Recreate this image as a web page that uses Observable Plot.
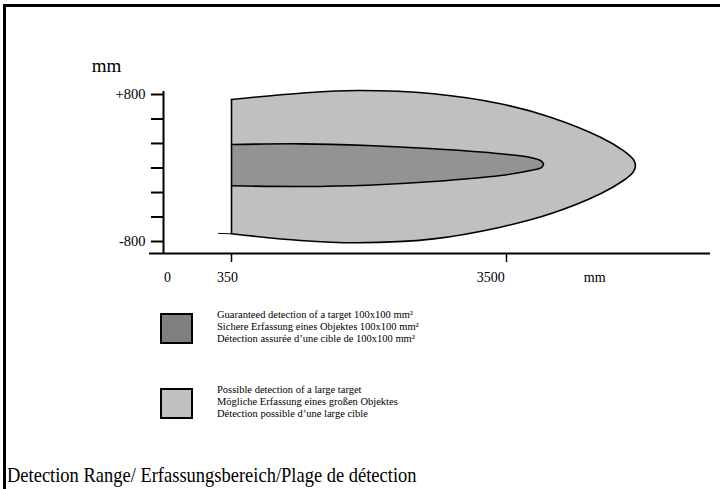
<!DOCTYPE html>
<html>
<head>
<meta charset="utf-8">
<script src="https://cdn.jsdelivr.net/npm/d3@7"></script>
<script src="https://cdn.jsdelivr.net/npm/@observablehq/plot@0.6"></script>
<style>
  html, body { margin: 0; padding: 0; background: #fff; width: 720px; height: 489px; overflow: hidden; }
  body { position: relative; font-family: "Liberation Serif", "DejaVu Serif", serif; color: #000; }
  #frame { position: absolute; left: 3px; top: 4px; right: 0; bottom: 0; border-top: 3px solid #000; border-left: 3px solid #000; }
  #chart { position: absolute; left: 0; top: 0; }
  .legend-item { position: absolute; left: 160px; display: flex; align-items: flex-start; }
  .swatch { width: 29px; height: 27px; border: 2px solid #000; box-sizing: content-box; }
  .legend-text { margin-left: 24px; font-size: 10.5px; line-height: 12.1px; margin-top: -4px; white-space: nowrap; }
  #caption { position: absolute; left: 7px; top: 462px; font-size: 22px; white-space: nowrap; transform: scaleX(0.84); transform-origin: left top; }
</style>
</head>
<body>
<div id="frame"></div>
<div id="chart"></div>
<div id="legend"></div>
<div id="caption">Detection Range/ Erfassungsbereich/Plage de détection</div>
<script>
// ---- data (mm) ----
// outer region: possible detection of a large target (top edge then bottom edge)
const outerX = [350, 1140, 1790, 2664, 3431, 4004, 4577, 4840, 4920, 4958, 4977, 4958, 4920, 4840, 4577, 4004, 3431, 2664, 1790, 1140, 350];
const outerY = [746, 814, 844, 808, 699, 553, 335, 190, 126, 85, 25, -35, -76, -136, -281, -499, -644, -771, -814, -789, -716];
// inner region: guaranteed detection of a 100x100 mm² target
const innerX = [350, 1140, 1908, 2664, 3431, 3775, 3900, 3924, 3900, 3775, 3431, 2664, 1908, 1140, 350];
const innerY = [256, 263, 245, 209, 155, 114, 75, 40, 5, -27, -82, -147, -187, -201, -194];
// small tail of the lower edge left of the 350 mm line
const tailX = [283, 350];
const tailY = [-712, -716];
// axes
const yTicks = [800, 533, 267, 0, -267, -533, -800];
const yTickLabels = ["+800", "", "", "", "", "", "-800"];
const yTickLen = [-62, 0];
const xTicks = [350, 3500];
const xTickLen = [-931, -1029];
const xLabels = ["0", "350", "3500", "mm"];
const xLabelAt = [21, 330, 3320, 4510];
const xAxisSpan = [-72, 5837];
const yAxisSpan = [-931, 833];
const edgeSpan = [-716, 746];
const legendLabels = [
  ["Guaranteed detection of a target 100x100 mm²", "Sichere Erfassung eines Objektes 100x100 mm²", "Détection assurée d’une cible de 100x100 mm²"],
  ["Possible detection of a large target", "Mögliche Erfassung eines großen Objektes", "Détection possible d’une large cible"]
];
const legendColors = ["#808080", "#c0c0c0"];
const innerColor = "#939393";
const outerColor = "#c0c0c0";

const outer = outerX.map((x, i) => ({x, y: outerY[i]}));
const inner = innerX.map((x, i) => ({x, y: innerY[i]}));
const tail = tailX.map((x, i) => ({x, y: tailY[i]}));
const xl = xLabels.map((t, i) => ({t, x: xLabelAt[i]}));
const yl = yTicks.map((y, i) => ({y, t: yTickLabels[i]}));

const plot = Plot.plot({
  width: 720,
  height: 300,
  marginTop: 0, marginLeft: 0, marginRight: 0, marginBottom: 0,
  style: {fontFamily: "'Liberation Serif', serif", background: "transparent", overflow: "visible"},
  x: {type: "linear", domain: [0, 350, 3500], range: [163, 231, 506], axis: null},
  y: {type: "linear", domain: [-800, 800], range: [241, 94], axis: null},
  marks: [
    Plot.line(outer, {x: "x", y: "y", curve: "catmull-rom", fill: outerColor, stroke: "#000", strokeWidth: 1.6}),
    Plot.line(inner, {x: "x", y: "y", curve: "catmull-rom", fill: innerColor, stroke: "#000", strokeWidth: 1.6}),
    Plot.line(tail, {x: "x", y: "y", stroke: "#000", strokeWidth: 1}),
    Plot.ruleX([350], {y1: edgeSpan[0], y2: edgeSpan[1], stroke: "#000", strokeWidth: 1.6}),
    // y axis
    Plot.ruleX([0], {y1: yAxisSpan[0], y2: yAxisSpan[1], stroke: "#000", strokeWidth: 2}),
    Plot.ruleY(yTicks, {x1: yTickLen[0], x2: yTickLen[1], stroke: "#000", strokeWidth: 2}),
    Plot.text(yl, {x: 0, y: "y", text: "t", textAnchor: "end", dx: -18, fontSize: 14.5}),
    // x axis
    Plot.ruleY([yAxisSpan[0]], {x1: xAxisSpan[0], x2: xAxisSpan[1], stroke: "#000", strokeWidth: 2}),
    Plot.ruleX(xTicks, {y1: xTickLen[0], y2: xTickLen[1], stroke: "#000", strokeWidth: 1.5}),
    Plot.text(xl, {x: "x", y: yAxisSpan[0], text: "t", dy: 24, fontSize: 14, textAnchor: "middle"}),
    Plot.text(["mm"], {frameAnchor: "top-left", dx: 106, dy: 65, fontSize: 19, textAnchor: "middle", lineAnchor: "middle"})
  ]
});
document.getElementById("chart").append(plot);

// legend
const legend = document.getElementById("legend");
const tops = [313, 388];
legendLabels.forEach((lines, i) => {
  const item = document.createElement("div");
  item.className = "legend-item";
  item.style.top = tops[i] + "px";
  const sw = document.createElement("div");
  sw.className = "swatch";
  sw.style.background = legendColors[i];
  const tx = document.createElement("div");
  tx.className = "legend-text";
  tx.innerHTML = lines.join("<br>");
  item.append(sw, tx);
  legend.append(item);
});
</script>
</body>
</html>
